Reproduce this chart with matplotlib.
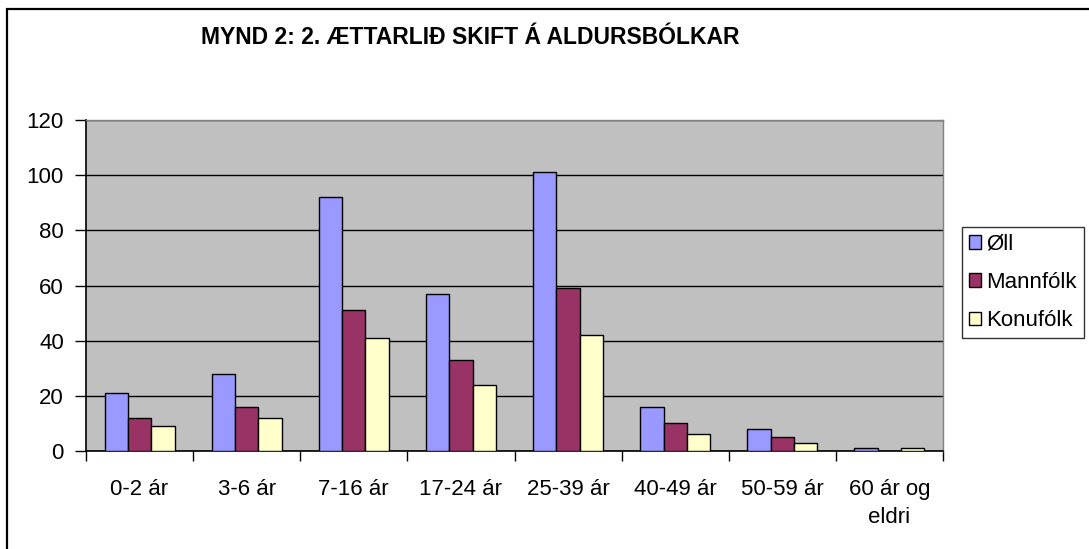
import matplotlib
matplotlib.use("Agg")
import matplotlib.pyplot as plt
import numpy as np
from matplotlib.patches import Patch, Rectangle

plt.rcParams['font.family'] = ['Liberation Sans', 'DejaVu Sans']

# data
groups = ['0-2 ár', '3-6 ár', '7-16 ár', '17-24 ár', '25-39 ár',
          '40-49 ár', '50-59 ár', '60 ár og\neldri']
oll = [21, 28, 92, 57, 101, 16, 8, 1]
mann = [12, 16, 51, 33, 59, 10, 5, 0]
konu = [9, 12, 41, 24, 42, 6, 3, 1]
series = ['Øll', 'Mannfólk', 'Konufólk']
colors = ['#9999FF', '#993366', '#FFFFCC']

W, H = 1089, 549
fig = plt.figure(figsize=(W / 100, H / 100), dpi=100)
fig.patch.set_facecolor('white')

# outer chart border (runs off the right/bottom of the image)
fig.patches.append(Rectangle((7 / W, -0.2), 2, 1.2 - 9 / H, transform=fig.transFigure,
                             fill=False, edgecolor='black', linewidth=1.6))

ax = fig.add_axes([86 / W, (H - 451) / H, 857 / W, 331 / H])
ax.set_facecolor('#C0C0C0')

x = np.arange(len(groups)) + 0.5
bw = 0.218
for i, (vals, c) in enumerate(zip([oll, mann, konu], colors)):
    ax.bar(x + (i - 1) * bw, vals, bw, color=c, edgecolor='black', linewidth=1.0, zorder=3)

ax.set_xlim(0, len(groups))
ax.set_ylim(0, 120)
ax.set_yticks(range(0, 121, 20))
ax.yaxis.grid(True, color='black', linewidth=1.0, zorder=1)
ax.set_axisbelow(True)

ax.set_xticks(np.arange(len(groups) + 1))
ax.set_xticklabels([])
ax.set_xticks(x, minor=True)
ax.set_xticklabels(groups, minor=True, fontsize=16, linespacing=1.45)
ax.tick_params(axis='x', which='major', direction='out', length=7, width=1, color='black')
ax.tick_params(axis='x', which='minor', length=0, pad=20)
ax.tick_params(axis='y', direction='out', length=8, width=1, labelsize=16, pad=8)

for s in ['top', 'right']:
    ax.spines[s].set_color('#808080')
    ax.spines[s].set_linewidth(1.0)
for s in ['left', 'bottom']:
    ax.spines[s].set_color('black')
    ax.spines[s].set_linewidth(1.2)

fig.text(470 / W, 1 - 37 / H, 'MYND 2: 2. ÆTTARLIÐ SKIFT Á ALDURSBÓLKAR',
         ha='center', va='center', fontsize=16.5, fontweight='bold')

handles = [Patch(facecolor=c, edgecolor='black', linewidth=1.0) for c in colors]
leg = fig.legend(handles, series, loc='upper left', bbox_to_anchor=(962 / W, 1 - 227 / H),
                 fontsize=16, frameon=True, fancybox=False, borderpad=0.3,
                 handlelength=0.55, handleheight=0.55, handletextpad=0.25,
                 labelspacing=0.78, borderaxespad=0)
leg.get_frame().set_edgecolor('black')
leg.get_frame().set_linewidth(1.0)

fig.savefig('out.png', dpi=100)
